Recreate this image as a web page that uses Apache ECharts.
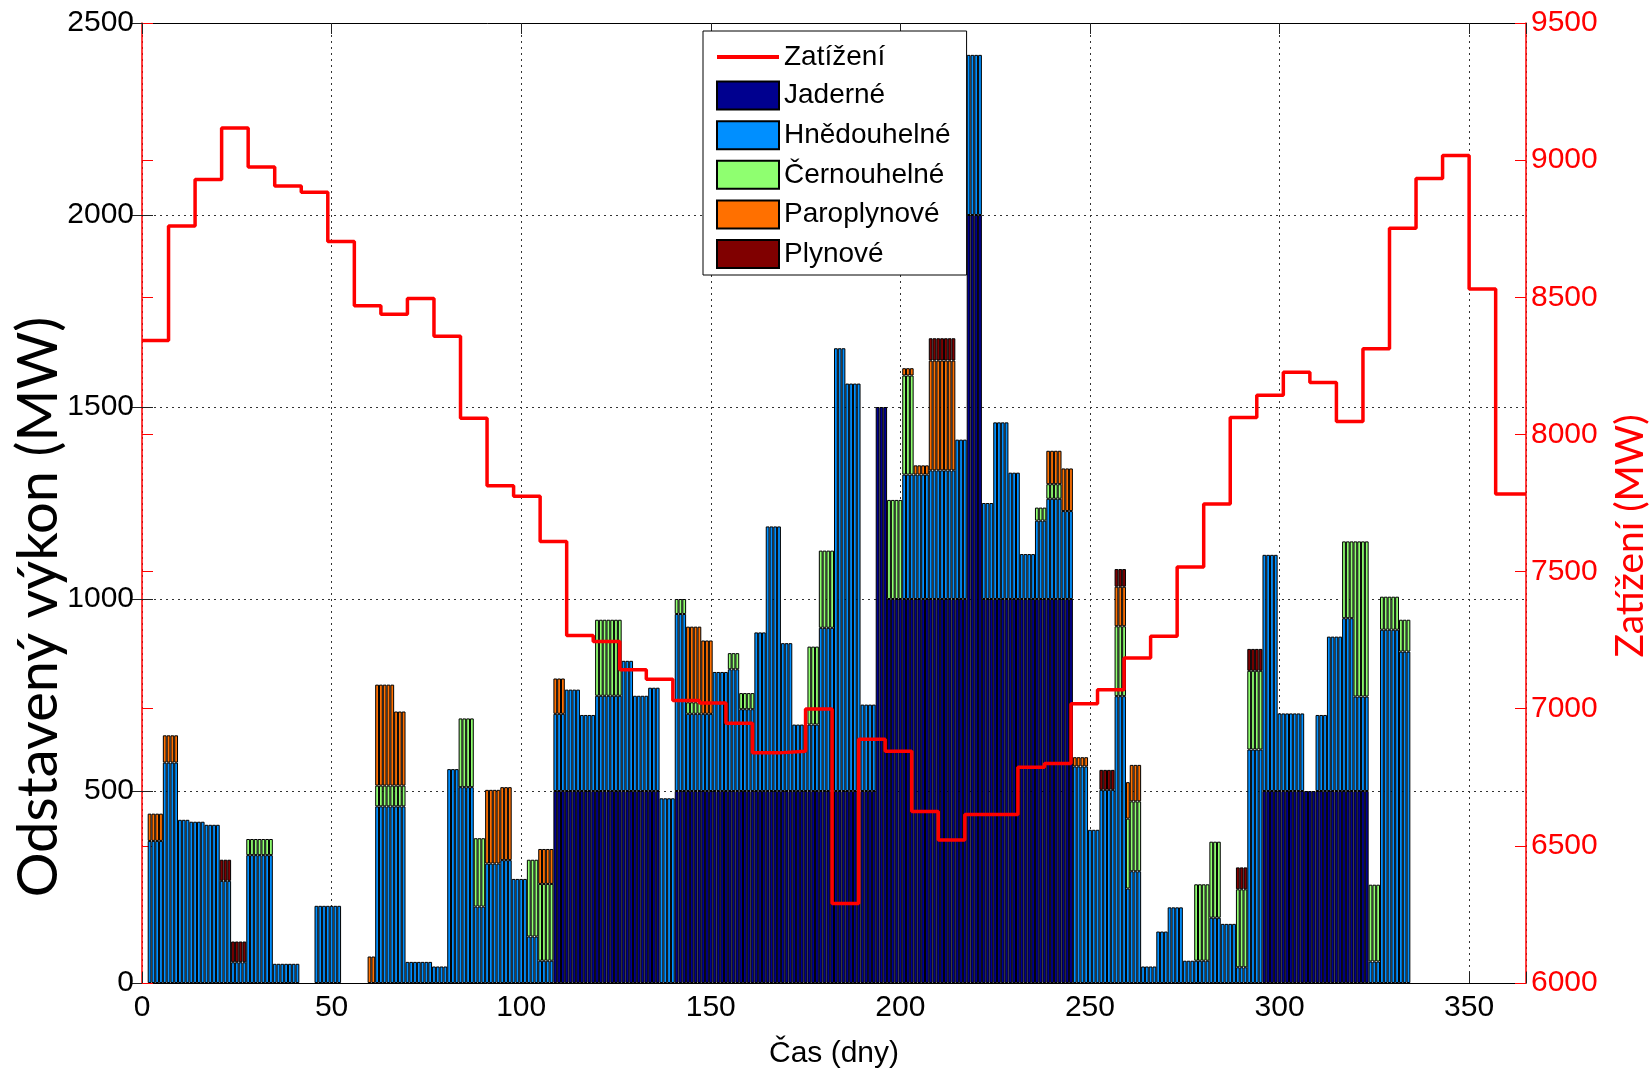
<!DOCTYPE html>
<html>
<head>
<meta charset="utf-8">
<script src="https://cdn.jsdelivr.net/npm/echarts@6/dist/echarts.min.js"></script>
<style>
html,body{margin:0;padding:0;background:#fff;}
#chart{width:1652px;height:1073px;}
</style>
</head>
<body>
<div id="chart"></div>
<script>
// ---- Data (runs: [firstDay, lastDay, MW]) ----
const seriesNames = ['Jaderné', 'Hnědouhelné', 'Černouhelné', 'Paroplynové', 'Plynové'];
const lineName = 'Zatížení';
const xTickLabels = [0, 50, 100, 150, 200, 250, 300, 350];
const leftTickLabels = [0, 500, 1000, 1500, 2000, 2500];
const rightTickLabels = [6000, 6500, 7000, 7500, 8000, 8500, 9000, 9500];
const lastDay = 334;

const jaderneRuns = [
  [109,136,500],[141,193,500],[194,196,1500],[197,217,1000],[218,221,2000],[222,245,1000],[296,323,500]
];
const hnedouhelneRuns = [
  [2,5,370],[6,9,574],[10,12,425],[13,16,420],[17,20,412],[21,23,266],[24,27,54],[28,34,333],
  [35,41,50],[46,52,201],[62,69,460],[70,76,55],[77,80,43],[81,83,557],[84,87,510],[88,90,199],
  [91,94,311],[95,97,320],[98,101,271],[102,104,121],[105,108,58],[109,111,201],[112,115,264],
  [116,119,198],[120,126,248],[127,129,339],[130,133,248],[134,136,269],[137,140,481],[141,143,461],
  [144,150,201],[151,154,310],[155,157,317],[158,161,213],[162,164,413],[165,168,689],[169,171,385],
  [172,178,173],[179,182,425],[183,185,1153],[186,189,1061],[190,193,225],[201,207,324],[208,214,335],
  [215,217,415],[218,221,417],[222,224,250],[225,228,460],[229,231,329],[232,235,117],[236,238,204],
  [239,242,261],[243,245,229],[246,249,564],[250,252,399],[253,256,503],[257,259,747],[260,260,246],
  [261,263,291],[264,267,43],[268,270,134],[271,274,197],[275,281,58],[282,284,170],[285,288,154],
  [289,291,41],[292,295,608],[296,299,615],[300,306,202],[310,312,198],[313,316,402],[317,319,450],
  [320,323,246],[324,326,56],[327,331,920],[332,334,863]
];
const cernouhelneRuns = [
  [28,34,42],[62,69,54],[84,87,179],[88,90,178],[102,108,200],[120,126,198],[141,143,39],[144,147,30],
  [155,161,42],[176,178,203],[179,182,201],[197,203,258],[236,238,34],[239,242,38],[257,263,182],
  [278,281,199],[282,284,198],[289,291,203],[292,295,205],[317,319,200],[320,323,404],[324,326,200],
  [327,331,86],[332,334,83]
];
const paroplynoveRuns = [
  [2,9,71],[60,61,69],[62,66,263],[67,69,193],[91,94,192],[95,97,190],[105,108,91],[109,111,92],
  [144,147,197],[148,150,191],[201,203,19],[204,207,24],[208,214,286],[239,242,87],[243,245,111],
  [246,249,24],[257,259,103],[260,263,95]
];
const plynoveRuns = [
  [21,23,55],[24,27,54],[208,214,58],[253,256,52],[257,259,46],[289,295,57]
];
// weekly load (MW), one value per week starting at day 0
const zatizeniWeekly = [
  8342,8760,8929,9117,8975,8906,8883,8703,8469,8438,8496,8358,8059,7813,7775,7610,
  7267,7245,7142,7107,7030,7021,6947,6839,6845,6999,6290,6889,6845,6625,6521,6614,
  6614,6787,6800,7018,7069,7185,7264,7517,7746,8062,8143,8227,8189,8047,8312,8752,
  8933,9017,8530,7783
];

const colors = ['#00008F', '#008FFF', '#8FFF70', '#FF7000', '#800000'];
const FONT = 'Liberation Sans, Arial, sans-serif';
const TITLE_FONT = 'Lato, sans-serif';

// items are [MW, day] so that the stack runs on the value dimension
function expand(runs) {
  const vals = new Array(lastDay).fill(0);
  runs.forEach(([a, b, v]) => { for (let d = a; d <= b; d++) vals[d - 1] = v; });
  return vals.map((v, i) => [v > 0 ? v : '-', i + 1]);
}
const allRuns = [jaderneRuns, hnedouhelneRuns, cernouhelneRuns, paroplynoveRuns, plynoveRuns];

const loadData = zatizeniWeekly.map((v, i) => [i * 7, v]);
loadData.push([365, zatizeniWeekly[zatizeniWeekly.length - 1]]);

const chart = echarts.init(document.getElementById('chart'), null, {renderer: 'canvas'});

const barSeries = seriesNames.map((name, k) => ({
  name: name,
  type: 'bar',
  stack: 'total',
  xAxisIndex: 0,
  yAxisIndex: 0,
  barWidth: '100%',
  encode: {x: 1, y: 0},
  data: expand(allRuns[k]),
  itemStyle: {color: colors[k], borderColor: '#000', borderWidth: 1},
  emphasis: {disabled: true},
  z: 2
}));

const tickStyleBlack = {show: true, inside: true, length: 11, lineStyle: {color: '#222', width: 1}};
const tickStyleRed = {show: true, inside: true, length: 11, lineStyle: {color: '#ff0000', width: 1}};
const gridLine = {show: true, lineStyle: {color: '#333', type: [2, 4], width: 1}};

const option = {
  animation: false,
  backgroundColor: '#fff',
  grid: {left: 142, top: 23, right: 126, bottom: 90, containLabel: false, outerBoundsMode: 'none'},
  legend: {
    orient: 'vertical',
    left: 703, top: 31,
    padding: [12, 16, 6, 12],
    itemWidth: 62, itemHeight: 28, itemGap: 9.6,
    backgroundColor: '#fff', borderColor: '#000', borderWidth: 1,
    selectedMode: false,
    textStyle: {fontFamily: FONT, fontSize: 28, lineHeight: 28, color: '#000'},
    data: [
      {name: lineName, itemStyle: {opacity: 0}, lineStyle: {width: 4, color: '#ff0000'}},
      ...seriesNames.map(n => ({name: n, icon: 'rect'}))
    ]
  },
  xAxis: [
    {
      type: 'value', position: 'bottom', min: 0, max: 365, interval: 50,
      axisLine: {show: true, onZero: false, lineStyle: {color: '#000', width: 1}},
      axisTick: tickStyleBlack,
      axisLabel: {color: '#000', fontFamily: FONT, fontSize: 30, margin: 10,
        formatter: v => (xTickLabels.indexOf(v) >= 0 ? String(v) : '')},
      splitLine: gridLine,
      name: 'Čas (dny)', nameLocation: 'middle', nameGap: 56, nameMoveOverlap: false,
      nameTextStyle: {color: '#000', fontFamily: FONT, fontSize: 30}
    },
    {
      type: 'value', position: 'top', min: 0, max: 365, interval: 50,
      axisLine: {show: true, onZero: false, lineStyle: {color: '#000', width: 1}},
      axisTick: tickStyleBlack,
      axisLabel: {show: false},
      splitLine: {show: false}
    }
  ],
  yAxis: [
    {
      type: 'value', position: 'left', min: 0, max: 2500, interval: 500,
      axisLine: {show: true, onZero: false, lineStyle: {color: '#ff0000', width: 1.5}},
      axisTick: tickStyleBlack,
      axisLabel: {color: '#000', fontFamily: FONT, fontSize: 30, margin: 8,
        formatter: v => (leftTickLabels.indexOf(v) >= 0 ? String(v) : '')},
      splitLine: gridLine,
      name: 'Odstavený výkon (MW)', nameLocation: 'middle', nameRotate: 90, nameGap: 75,
      nameMoveOverlap: false,
      nameTextStyle: {color: '#000', fontFamily: TITLE_FONT, fontSize: 56, padding: [0, 208, 0, 0]}
    },
    {
      type: 'value', position: 'right', min: 6000, max: 9500, interval: 500,
      axisLine: {show: true, onZero: false, lineStyle: {color: '#ff0000', width: 1.5}},
      axisTick: tickStyleRed,
      axisLabel: {color: '#ff0000', fontFamily: FONT, fontSize: 30, margin: 5,
        formatter: v => (rightTickLabels.indexOf(v) >= 0 ? String(v) : '')},
      splitLine: {show: false},
      name: 'Zatížení (MW)', nameLocation: 'middle', nameRotate: 90, nameGap: 85,
      nameMoveOverlap: false,
      nameTextStyle: {color: '#ff0000', fontFamily: TITLE_FONT, fontSize: 39, padding: [0, 66, 0, 0]}
    },
    {
      type: 'value', position: 'left', min: 6000, max: 9500, interval: 500,
      axisLine: {show: false}, axisTick: tickStyleRed, axisLabel: {show: false}, splitLine: {show: false}
    },
    {
      type: 'value', position: 'right', min: 0, max: 2500, interval: 500,
      axisLine: {show: false}, axisTick: tickStyleBlack, axisLabel: {show: false}, splitLine: {show: false}
    }
  ],
  series: [
    ...barSeries,
    {
      name: lineName,
      type: 'line',
      xAxisIndex: 0,
      yAxisIndex: 1,
      step: 'end',
      symbol: 'none',
      data: loadData,
      lineStyle: {color: '#ff0000', width: 3.5},
      itemStyle: {color: '#ff0000'},
      emphasis: {disabled: true},
      z: 5
    }
  ]
};
chart.setOption(option);
</script>
</body>
</html>
